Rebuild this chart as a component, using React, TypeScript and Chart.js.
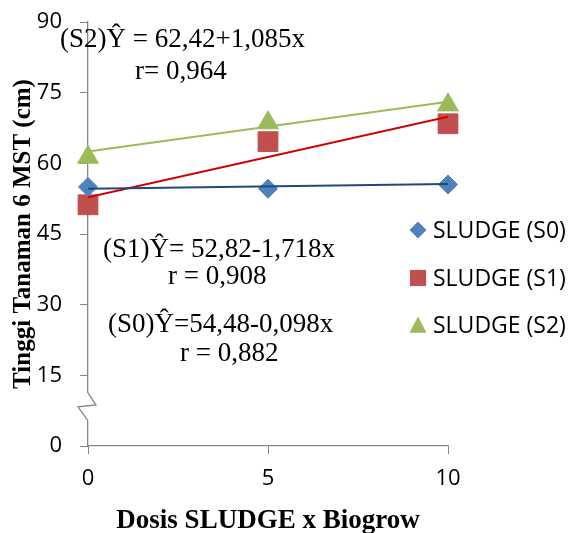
import React, { useEffect, useRef } from 'react';
import { Chart, registerables } from 'chart.js';

Chart.register(...registerables);

// ---- data ----
const DOSES = [0, 5, 10];
const S0_VALUES = [55.0, 54.6, 55.5];
const S1_VALUES = [51.2, 64.6, 68.4];
const S2_VALUES = [61.3, 68.6, 72.4];
const TREND_X = [0, 10];
const TREND_S0 = [54.6, 55.6];
const TREND_S1 = [52.8, 69.9];
const TREND_S2 = [62.5, 73.1];
const Y_TICKS = [0, 15, 30, 45, 60, 75, 90];
const X_TICKS = [0, 5, 10];
const SERIES_LABELS = ['SLUDGE (S0)', 'SLUDGE (S1)', 'SLUDGE (S2)'];
const EQUATION_LINES = [
  '(S2)Ŷ = 62,42+1,085x',
  'r= 0,964',
  '(S1)Ŷ= 52,82-1,718x',
  'r = 0,908',
  '(S0)Ŷ=54,48-0,098x',
  'r = 0,882',
];
const X_TITLE = 'Dosis SLUDGE x Biogrow';
const Y_TITLE = 'Tinggi Tanaman 6 MST (cm)';
const BREAK_VALUE = 8.3;

// ---- layout / styles ----
const W = 568;
const H = 533;
const EQ_POS = [
  [60, 47],
  [135, 79],
  [103, 257],
  [168, 284],
  [108, 332],
  [180, 361],
];
const LEGEND_X = 418;
const LEGEND_Y = [230, 278, 325];
const AXIS_COLOR = '#868686';
const COLORS = ['#4F81BD', '#C0504D', '#9BBB59'];
const TREND_COLORS = ['#1F497D', '#D00000', '#9BBB59'];
const STYLES = ['rectRot', 'rect', 'triangle'];
const RADII = [9.5, 14, 12];

function drawMarker(ctx: CanvasRenderingContext2D, style: string, x: number, y: number, s: number, color: string) {
  ctx.save();
  ctx.fillStyle = color;
  ctx.beginPath();
  if (style === 'rectRot') {
    ctx.moveTo(x, y - s);
    ctx.lineTo(x + s, y);
    ctx.lineTo(x, y + s);
    ctx.lineTo(x - s, y);
  } else if (style === 'rect') {
    ctx.rect(x - s * 0.95, y - s * 0.95, s * 1.9, s * 1.9);
  } else {
    ctx.moveTo(x, y - s);
    ctx.lineTo(x + s, y + s * 0.9);
    ctx.lineTo(x - s, y + s * 0.9);
  }
  ctx.closePath();
  ctx.fill();
  ctx.restore();
}

const decorPlugin = {
  id: 'decor',
  afterDraw(chart: any) {
    const ctx: CanvasRenderingContext2D = chart.ctx;
    const yScale = chart.scales.y;
    const left = chart.chartArea.left;
    // axis break
    const by = yScale.getPixelForValue(BREAK_VALUE);
    ctx.save();
    ctx.fillStyle = '#ffffff';
    ctx.fillRect(left - 3, by - 14, 6, 28);
    ctx.strokeStyle = AXIS_COLOR;
    ctx.lineWidth = 1.3;
    ctx.beginPath();
    ctx.moveTo(left, by - 14);
    ctx.lineTo(left + 8, by - 2);
    ctx.lineTo(left - 10, by);
    ctx.lineTo(left, by + 14);
    ctx.stroke();
    ctx.restore();

    // equations
    ctx.save();
    ctx.fillStyle = '#000000';
    ctx.font = '27px "Liberation Serif", "Times New Roman", serif';
    ctx.textBaseline = 'alphabetic';
    ctx.textAlign = 'left';
    EQUATION_LINES.forEach((t, i) => {
      ctx.fillText(t, EQ_POS[i][0], EQ_POS[i][1]);
    });
    ctx.restore();

    // legend
    ctx.save();
    ctx.font = '23px "Open Sans", sans-serif';
    ctx.textBaseline = 'middle';
    ctx.textAlign = 'left';
    chart.data.datasets.forEach((ds: any) => {
      if (ds.isTrend) return;
      const idx = ds.seriesIndex;
      const ly = LEGEND_Y[idx];
      drawMarker(ctx, STYLES[idx], LEGEND_X, ly, 8.5, COLORS[idx]);
      ctx.fillStyle = '#000000';
      ctx.fillText(ds.label, LEGEND_X + 15, ly + 1);
    });
    ctx.restore();
  },
};

export default function App() {
  const ref = useRef<HTMLCanvasElement | null>(null);

  useEffect(() => {
    if (!ref.current) return;
    const seriesVals = [S0_VALUES, S1_VALUES, S2_VALUES];
    const trendVals = [TREND_S0, TREND_S1, TREND_S2];
    const datasets: any[] = [];
    trendVals.forEach((vals, i) => {
      datasets.push({
        type: 'line',
        label: 'trend' + i,
        isTrend: true,
        data: TREND_X.map((x, j) => ({ x, y: vals[j] })),
        borderColor: TREND_COLORS[i],
        borderWidth: 2,
        pointRadius: 0,
        fill: false,
        order: 0,
      });
    });
    seriesVals.forEach((vals, i) => {
      datasets.push({
        type: 'scatter',
        label: SERIES_LABELS[i],
        seriesIndex: i,
        data: DOSES.map((x, j) => ({ x, y: vals[j] })),
        backgroundColor: COLORS[i],
        borderColor: COLORS[i],
        borderWidth: 1,
        pointStyle: STYLES[i],
        pointRadius: RADII[i],
        showLine: false,
        clip: false,
        order: 1,
      });
    });

    const chart = new Chart(ref.current, {
      type: 'scatter',
      data: { datasets },
      options: {
        animation: false,
        responsive: false,
        events: [],
        layout: { padding: { top: 22, right: 120, left: 0, bottom: 0 } },
        plugins: { legend: { display: false }, tooltip: { enabled: false } },
        scales: {
          x: {
            type: 'linear',
            min: 0,
            max: 10,
            afterBuildTicks: (s: any) => { s.ticks = X_TICKS.map((v) => ({ value: v })); },
            afterFit: (s: any) => { s.height = 87; s.paddingLeft = 0; s.paddingRight = 0; },
            grid: { display: true, drawOnChartArea: false, drawTicks: true, tickLength: 8, color: AXIS_COLOR },
            border: { display: true, color: AXIS_COLOR, width: 1.3 },
            ticks: { color: '#000', font: { family: 'Open Sans', size: 22 }, padding: 12 },
            title: {
              display: true,
              text: X_TITLE,
              color: '#000',
              font: { family: 'Liberation Serif', size: 27, weight: 'bold', lineHeight: 0.85 },
              padding: { top: 0, bottom: 0 },
            },
          },
          y: {
            type: 'linear',
            min: 0,
            max: 90,
            afterBuildTicks: (s: any) => { s.ticks = Y_TICKS.map((v) => ({ value: v })); },
            afterFit: (s: any) => { s.width = 88; s.paddingTop = 0; s.paddingBottom = 0; },
            grid: { display: true, drawOnChartArea: false, drawTicks: true, tickLength: 8, color: AXIS_COLOR },
            border: { display: true, color: AXIS_COLOR, width: 1.3 },
            ticks: { color: '#000', font: { family: 'Open Sans', size: 22 }, padding: 18 },
            title: {
              display: true,
              text: Y_TITLE,
              color: '#000',
              font: { family: 'Liberation Serif', size: 25, weight: 'bold' },
              padding: { top: 9, bottom: 0 },
            },
          },
        },
      } as any,
      plugins: [decorPlugin],
    });
    return () => chart.destroy();
  }, []);

  return (
    <div style={{ position: 'fixed', left: 0, top: 0, width: W, height: H, background: '#fff' }}>
      <canvas ref={ref} width={W} height={H} style={{ display: 'block', width: W, height: H }} />
    </div>
  );
}
